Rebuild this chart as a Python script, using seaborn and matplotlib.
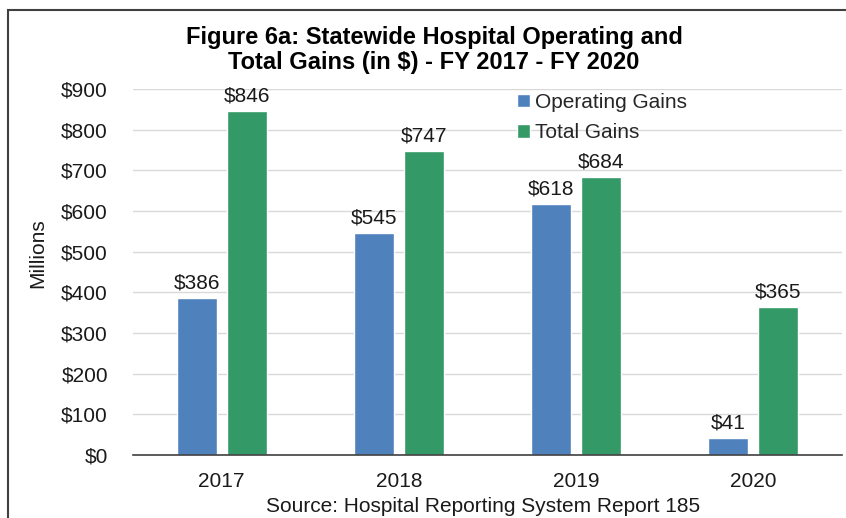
import pandas as pd
import matplotlib
matplotlib.use("Agg")
import matplotlib.pyplot as plt
import seaborn as sns
from matplotlib.patches import Rectangle

# Values in millions of dollars
years = ["2017", "2018", "2019", "2020"]
operating_gains = [386, 545, 618, 41]
total_gains = [846, 747, 684, 365]
series_names = ["Operating Gains", "Total Gains"]
y_ticks = [0, 100, 200, 300, 400, 500, 600, 700, 800, 900]

df = pd.DataFrame({
    "Year": years * 2,
    "Gains": operating_gains + total_gains,
    "Series": [series_names[0]] * 4 + [series_names[1]] * 4,
})

sns.set_style("white")
plt.rcParams["font.family"] = ["Liberation Sans", "DejaVu Sans"]

fig = plt.figure(figsize=(8.46, 5.18), dpi=100)
ax = fig.add_axes([133 / 846, 1 - 455 / 518, 709 / 846, 366 / 518])

palette = {"Operating Gains": "#4F81BD", "Total Gains": "#339966"}
sns.barplot(data=df, x="Year", y="Gains", hue="Series", palette=palette,
            width=0.564, gap=0.2, saturation=1, ax=ax, zorder=2)

# Value labels on the bars
for cont in ax.containers:
    ax.bar_label(cont, labels=[f"${v:.0f}" for v in cont.datavalues],
                 padding=4, fontsize=15, color="#1a1a1a")

ax.set_ylim(0, 900)
ax.set_yticks(y_ticks)
ax.set_yticklabels([f"${t}" for t in y_ticks])
ax.yaxis.grid(True, color="#d9d9d9", linewidth=1, zorder=0)
ax.set_axisbelow(True)
for s in ["left", "top", "right"]:
    ax.spines[s].set_visible(False)
ax.spines["bottom"].set_color("#404040")
ax.spines["bottom"].set_linewidth(1.2)
ax.tick_params(axis="y", length=0, pad=18, labelsize=15, labelcolor="#1a1a1a")
ax.tick_params(axis="x", length=0, pad=12, labelsize=15, labelcolor="#1a1a1a")
ax.set_xlabel("")
ax.set_ylabel("")

fig.text(38 / 846, 1 - 253 / 518, "Millions", rotation=90, fontsize=15,
         ha="center", va="center", color="#1a1a1a")

leg = ax.legend(loc="upper left", bbox_to_anchor=(0.53, 1.012), frameon=False,
                fontsize=15, handlelength=0.6, handleheight=0.6,
                handletextpad=0.25, labelspacing=0.55, borderaxespad=0)

fig.text(434 / 846, 1 - 50 / 518,
         "Figure 6a: Statewide Hospital Operating and\nTotal Gains (in $) - FY 2017 - FY 2020",
         fontsize=17, fontweight="bold", ha="center", va="center",
         linespacing=1.15, color="black")

fig.text(483 / 846, 1 - 506 / 518, "Source: Hospital Reporting System Report 185",
         fontsize=15, ha="center", va="center", color="#1a1a1a")

# Outer frame around the chart (cut off at right and bottom)
fig.patches.append(Rectangle((8 / 846, -0.1), 1.1, 1.1 - 10 / 518,
                             transform=fig.transFigure, fill=False,
                             edgecolor="#404040", linewidth=1.5))

fig.savefig("out.png", dpi=100)
